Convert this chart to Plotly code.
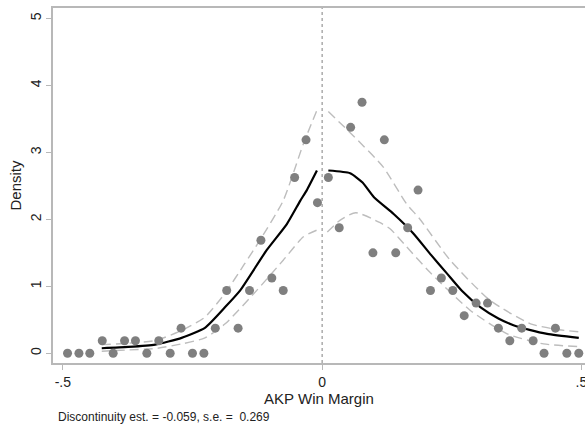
import plotly.graph_objects as go

# Binned densities (dots)
bin_x = [-0.491, -0.469, -0.448, -0.424, -0.403, -0.381, -0.360, -0.338, -0.315, -0.293,
         -0.272, -0.250, -0.228, -0.206, -0.184, -0.162, -0.140, -0.118, -0.097, -0.075,
         -0.053, -0.031, -0.009,
         0.012, 0.033, 0.055, 0.077, 0.098, 0.120, 0.142, 0.165, 0.185, 0.209,
         0.230, 0.252, 0.274, 0.297, 0.319, 0.340, 0.362, 0.385, 0.407, 0.428,
         0.450, 0.472, 0.495]
bin_y = [0, 0, 0, 0.1875, 0, 0.1875, 0.1875, 0, 0.1875, 0,
         0.375, 0, 0, 0.375, 0.9375, 0.375, 0.9375, 1.6875, 1.125, 0.9375,
         2.625, 3.1875, 2.25,
         2.625, 1.875, 3.375, 3.75, 1.5, 3.1875, 1.5, 1.875, 2.4375, 0.9375,
         1.125, 0.9375, 0.5625, 0.75, 0.75, 0.375, 0.1875, 0.375, 0.1875, 0,
         0.375, 0, 0]

# Fitted density, left of cutoff
fit_l_x = [-0.425, -0.374, -0.322, -0.271, -0.226, -0.187, -0.158, -0.107, -0.068, -0.042, -0.030, -0.010]
fit_l_y = [0.075, 0.095, 0.13, 0.23, 0.38, 0.69, 0.94, 1.54, 1.93, 2.28, 2.43, 2.73]
hi_l_x = [-0.425, -0.374, -0.322, -0.271, -0.226, -0.187, -0.150, -0.120, -0.075, -0.036, -0.010]
hi_l_y = [0.13, 0.15, 0.19, 0.34, 0.54, 0.90, 1.33, 1.69, 2.28, 3.13, 3.63]
lo_l_x = [-0.425, -0.374, -0.322, -0.271, -0.226, -0.187, -0.126, -0.075, -0.036, -0.010]
lo_l_y = [0.03, 0.05, 0.07, 0.14, 0.23, 0.44, 0.94, 1.39, 1.74, 1.84]

# Fitted density, right of cutoff
fit_r_x = [0.012, 0.054, 0.078, 0.100, 0.138, 0.176, 0.210, 0.241, 0.270, 0.305, 0.340, 0.369, 0.400, 0.434, 0.495]
fit_r_y = [2.73, 2.69, 2.55, 2.33, 2.08, 1.79, 1.47, 1.19, 0.93, 0.69, 0.52, 0.42, 0.35, 0.29, 0.23]
hi_r_x = [0.012, 0.060, 0.118, 0.163, 0.188, 0.247, 0.324, 0.402, 0.450, 0.495]
hi_r_y = [3.61, 3.25, 2.78, 2.23, 2.01, 1.39, 0.79, 0.44, 0.36, 0.32]
lo_r_x = [0.010, 0.035, 0.065, 0.112, 0.131, 0.163, 0.208, 0.286, 0.357, 0.427, 0.495]
lo_r_y = [1.81, 1.99, 2.10, 1.95, 1.86, 1.59, 1.21, 0.64, 0.29, 0.14, 0.10]

x_tickvals = [-0.5, 0, 0.5]
x_ticktext = ["-.5", "0", ".5"]
y_tickvals = [0, 1, 2, 3, 4, 5]
y_ticktext = ["0", "1", "2", "3", "4", "5"]
note = "Discontinuity est. = -0.059, s.e. =  0.269"

FONT = "Liberation Sans, Arial, sans-serif"
AX = "#b8b8b8"
DASH = "#bdbdbd"

fig = go.Figure()
for xs, ys in [(hi_l_x, hi_l_y), (lo_l_x, lo_l_y), (hi_r_x, hi_r_y), (lo_r_x, lo_r_y)]:
    fig.add_trace(go.Scatter(x=xs, y=ys, mode="lines", line_shape="spline",
                             line=dict(color=DASH, width=1.4, dash="9px,5px", smoothing=0.6),
                             showlegend=False, hoverinfo="skip"))
for xs, ys in [(fit_l_x, fit_l_y), (fit_r_x, fit_r_y)]:
    fig.add_trace(go.Scatter(x=xs, y=ys, mode="lines", line_shape="spline",
                             line=dict(color="black", width=2.2, smoothing=0.5),
                             showlegend=False, hoverinfo="skip"))
fig.add_trace(go.Scatter(x=bin_x, y=bin_y, mode="markers",
                         marker=dict(color="#7f7f7f", size=9, line=dict(width=0)),
                         showlegend=False, cliponaxis=False))

fig.add_shape(type="line", xref="x", yref="paper", x0=0, x1=0, y0=0, y1=1,
              line=dict(color="#808080", width=1, dash="dot"), layer="below")

fig.add_annotation(text=note, xref="paper", yref="paper", x=0.006, y=-0.153,
                   xanchor="left", yanchor="middle", showarrow=False,
                   font=dict(family=FONT, size=12, color="#222222"))

fig.update_layout(
    width=585, height=426,
    margin=dict(l=53, r=0, t=8, b=63),
    paper_bgcolor="white", plot_bgcolor="white",
    font=dict(family=FONT, color="#222222"),
    xaxis=dict(range=[-0.519, 0.507], tickvals=x_tickvals, ticktext=x_ticktext,
               showgrid=False, zeroline=False, showline=True, linecolor=AX, linewidth=1.5,
               mirror=True, ticks="outside", ticklen=5, tickcolor=AX, automargin=False,
               tickfont=dict(size=14, color="#222222"), ticklabeloverflow="allow",
               title=dict(text="AKP Win Margin", font=dict(size=15, color="#222222"), standoff=2)),
    yaxis=dict(range=[-0.145, 5.157], tickvals=y_tickvals, ticktext=y_ticktext,
               showgrid=False, zeroline=False, showline=True, linecolor=AX, linewidth=1.5,
               ticks="outside", ticklen=5, tickcolor=AX, tickangle=-90, automargin=False,
               tickfont=dict(size=14, color="#222222"),
               title=dict(text="Density", font=dict(size=15, color="#222222"), standoff=2)),
)

fig.write_html("out.html", config={"displayModeBar": False},
               post_script="document.body.style.margin='0';")
